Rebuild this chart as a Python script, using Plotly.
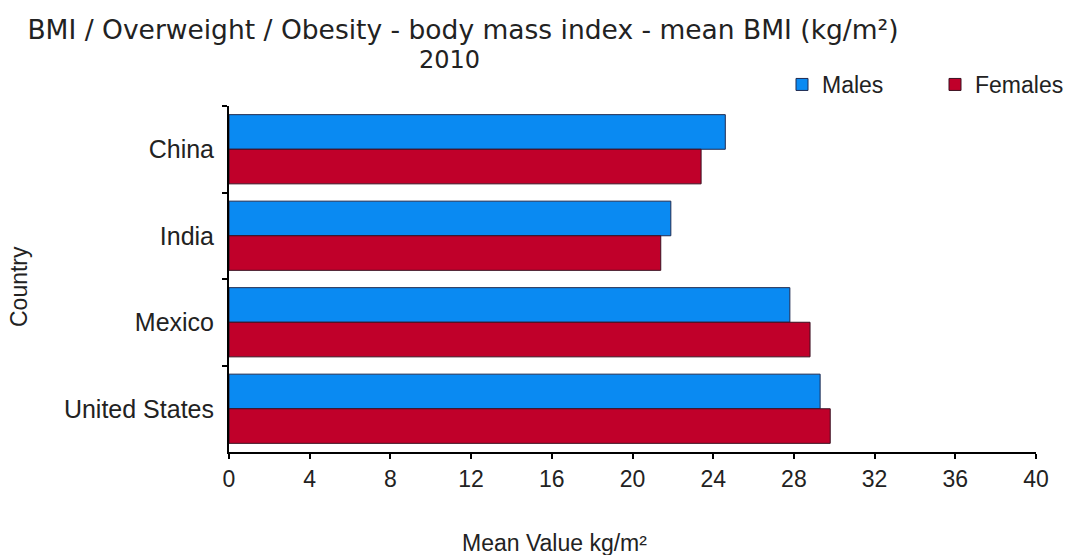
import plotly.graph_objects as go

# Mean BMI (kg/m²) by country and sex, 2010
countries = ["China", "India", "Mexico", "United States"]
males = [24.6, 21.9, 27.8, 29.3]
females = [23.4, 21.4, 28.8, 29.8]

x_ticks = [0, 4, 8, 12, 16, 20, 24, 28, 32, 36, 40]

title_text = "BMI / Overweight / Obesity - body mass index - mean BMI (kg/m²)"
year_text = "2010"

BLUE = "#0A8AF2"
RED = "#C0002A"
SANS = "Liberation Sans, Arial, sans-serif"
TITLE_FONT = "DejaVu Sans, Verdana, sans-serif"
TEXT = "#222222"

fig = go.Figure()
fig.add_trace(go.Bar(
    name="Males", y=countries, x=males, orientation="h",
    marker=dict(color=BLUE, line=dict(color="#1E2A50", width=1)),
))
fig.add_trace(go.Bar(
    name="Females", y=countries, x=females, orientation="h",
    marker=dict(color=RED, line=dict(color="#3A1020", width=1)),
))

fig.update_layout(
    width=1073, height=555,
    margin=dict(l=229, r=37, t=106, b=103, autoexpand=False),
    paper_bgcolor="white", plot_bgcolor="white",
    barmode="group", bargap=0.2, bargroupgap=0,
    title=dict(
        text=title_text,
        font=dict(family=TITLE_FONT, size=26.5, color=TEXT),
        x=0.4315, xref="container", xanchor="center",
        y=1 - 30 / 555, yref="container", yanchor="middle",
    ),
    showlegend=True,
    legend=dict(
        orientation="h", traceorder="normal",
        x=0.7288, xref="container", xanchor="left",
        y=1.0, yanchor="bottom",
        font=dict(family=SANS, size=23, color=TEXT),
        entrywidth=108, entrywidthmode="pixels",
        bgcolor="rgba(0,0,0,0)",
    ),
    xaxis=dict(
        range=[0, 40], tickvals=x_ticks, ticktext=[str(v) for v in x_ticks],
        showline=True, linecolor="black", linewidth=2,
        ticks="outside", ticklen=5, tickwidth=2, tickcolor="black",
        showgrid=False, zeroline=False,
        tickfont=dict(family=SANS, size=23, color=TEXT),
    ),
    yaxis=dict(
        autorange="reversed", showline=True, linecolor="black", linewidth=2,
        ticks="outside", ticklen=5, tickwidth=2, tickcolor="black",
        tickson="boundaries", showgrid=False,
        tickfont=dict(family=SANS, size=25, color=TEXT),
        ticklabelstandoff=8,
    ),
    annotations=[
        dict(text=year_text, xref="paper", yref="paper",
             x=(449 - 229) / 807, y=1 + (106 - 60) / 346, xanchor="center", yanchor="middle",
             showarrow=False, font=dict(family=TITLE_FONT, size=24, color=TEXT)),
        dict(text="Mean Value kg/m²", xref="paper", yref="paper",
             x=(554 - 229) / 807, y=-(543 - 452) / 346, xanchor="center", yanchor="middle",
             showarrow=False, font=dict(family=SANS, size=23, color=TEXT)),
        dict(text="Country", xref="paper", yref="paper",
             x=-(229 - 19) / 807, y=(452 - 287) / 346, xanchor="center", yanchor="middle",
             textangle=-90, showarrow=False, font=dict(family=SANS, size=23, color=TEXT)),
    ],
)

fig.write_html("out.html")
